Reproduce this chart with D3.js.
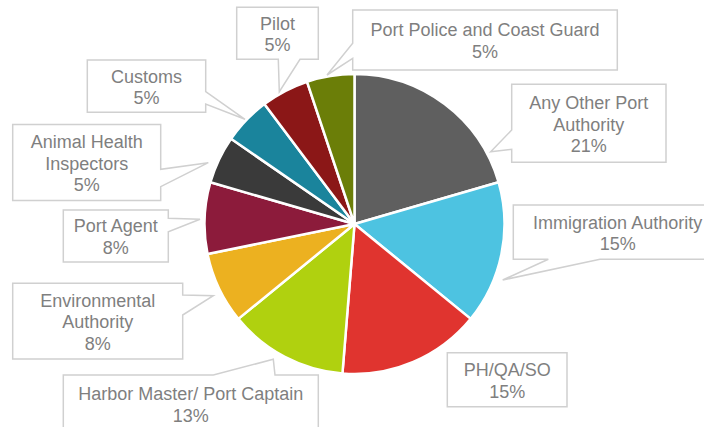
<!DOCTYPE html>
<html>
<head>
<meta charset="utf-8">
<script src="https://cdn.jsdelivr.net/npm/d3@7"></script>
<style>
  html, body { margin: 0; padding: 0; background: #fff; }
  svg { display: block; }
</style>
</head>
<body>
<svg id="chart" width="704" height="427"></svg>
<script>
// ---- data ----
const categories = [
  "Any Other Port Authority",
  "Immigration Authority",
  "PH/QA/SO",
  "Harbor Master/ Port Captain",
  "Environmental Authority",
  "Port Agent",
  "Animal Health Inspectors",
  "Customs",
  "Pilot",
  "Port Police and Coast Guard"
];
const counts = [8, 6, 6, 5, 3, 3, 2, 2, 2, 2];
// label line breaks (text only)
const labelLines = [
  ["Any Other Port", "Authority"],
  ["Immigration Authority"],
  ["PH/QA/SO"],
  ["Harbor Master/ Port Captain"],
  ["Environmental", "Authority"],
  ["Port Agent"],
  ["Animal Health", "Inspectors"],
  ["Customs"],
  ["Pilot"],
  ["Port Police and Coast Guard"]
];
const colors = ["#5f5f5f", "#4dc3e1", "#e0342f", "#b0d10f", "#ecb120",
                "#8c1b3b", "#3a3a3a", "#1a849c", "#8b1717", "#6b7e08"];

// ---- layout (annotation callouts) ----
const callouts = [
  { box: [511.7, 84.3, 666, 162.3],  edge: "left",   base: [130, 149.3], tip: [490.7, 151.7] },
  { box: [513.3, 205, 722, 259.3],   edge: "bottom", base: [548.3, 600], tip: [502.7, 280] },
  { box: [447.3, 352.7, 567, 406.7], edge: null },
  { box: [63.3, 375, 318.3, 432],    edge: "top",    base: [213.3, 275], tip: [273.3, 359.3] },
  { box: [12.7, 283.3, 182.7, 359],  edge: "right",  base: [295, 315],   tip: [213.3, 295.7] },
  { box: [63.3, 210, 168.3, 262],    edge: "right",  base: [218.3, 231.7], tip: [200, 219.3] },
  { box: [12.7, 124.5, 160.7, 200.5], edge: "right", base: [169.3, 186.7], tip: [208.3, 162.7] },
  { box: [87.3, 60, 205.7, 112.3],   edge: "right",  base: [91.7, 104],  tip: [245, 119.3] },
  { box: [236.7, 7.3, 318.3, 59.3],  edge: "bottom", base: [278.3, 300], tip: [279.3, 91.7] },
  { box: [352.7, 10, 617.3, 70],     edge: "left",   base: [43.3, 58.3], tip: [327, 75] }
];

const cx = 354.5, cy = 224, R = 150;
const fontSize = 18, lineH = 21.6;

const svg = d3.select("#chart");
const total = d3.sum(counts);

const pie = d3.pie().sort(null).value(d => d).startAngle(0).endAngle(2 * Math.PI);
const arc = d3.arc().innerRadius(0).outerRadius(R);

const g = svg.append("g").attr("transform", `translate(${cx},${cy})`);
g.selectAll("path.slice")
  .data(pie(counts))
  .join("path")
  .attr("class", "slice")
  .attr("d", arc)
  .attr("fill", (d, i) => colors[i])
  .attr("stroke", "#ffffff")
  .attr("stroke-width", 2.5)
  .attr("stroke-linejoin", "round");

function calloutPath(c) {
  const [x0, y0, x1, y1] = c.box;
  const pts = [];
  // clockwise from top-left
  pts.push([x0, y0]);
  if (c.edge === "top") { pts.push([c.base[0], y0], c.tip, [c.base[1], y0]); }
  pts.push([x1, y0]);
  if (c.edge === "right") { pts.push([x1, c.base[0]], c.tip, [x1, c.base[1]]); }
  pts.push([x1, y1]);
  if (c.edge === "bottom") { pts.push([c.base[1], y1], c.tip, [c.base[0], y1]); }
  pts.push([x0, y1]);
  if (c.edge === "left") { pts.push([x0, c.base[1]], c.tip, [x0, c.base[0]]); }
  return "M" + pts.map(p => p.join(",")).join("L") + "Z";
}

const fmt = v => Math.round(v / total * 100) + "%";

const cg = svg.append("g");
callouts.forEach((c, i) => {
  cg.append("path")
    .attr("d", calloutPath(c))
    .attr("fill", "#ffffff")
    .attr("stroke", "#d0d0d0")
    .attr("stroke-width", 1.5)
    .attr("stroke-linejoin", "miter");
  const lines = labelLines[i].concat([fmt(counts[i])]);
  const [x0, y0, x1, y1] = c.box;
  const mx = (x0 + x1) / 2, my = (y0 + y1) / 2;
  const n = lines.length;
  const t = cg.append("text")
    .attr("font-family", "'Liberation Sans', Arial, Helvetica, sans-serif")
    .attr("font-size", fontSize)
    .attr("fill", "#7f7f7f")
    .attr("text-anchor", "middle");
  lines.forEach((s, k) => {
    t.append("tspan")
      .attr("x", mx)
      .attr("y", my - (n - 1) / 2 * lineH + k * lineH + 0.4 * fontSize)
      .text(s);
  });
});
</script>
</body>
</html>
